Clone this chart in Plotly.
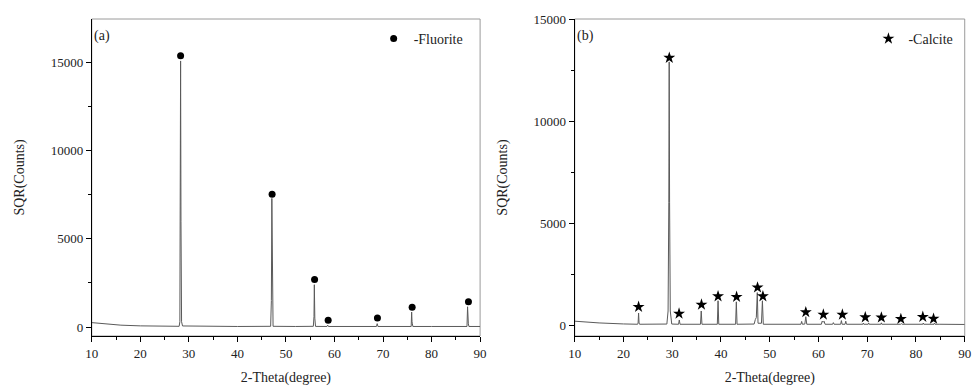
import plotly.graph_objects as go

# ---------------- data ----------------
# (a) Fluorite pattern: profile vertices 2-theta / counts
fluor_x = [10, 12, 14, 16, 20, 25, 28.0, 28.15, 28.25, 28.3, 28.38, 28.5, 28.7,
           35, 40, 46.85, 47.0, 47.1, 47.2, 47.35,
           52, 55.65, 55.78, 55.85, 55.95, 56.1,
           58.45, 58.6, 58.75,
           65, 68.65, 68.8, 68.95,
           75.8, 75.9, 75.98, 76.05, 76.15,
           80, 87.3, 87.42, 87.5, 87.58, 87.7, 90]
fluor_y = [250, 200, 140, 105, 65, 45, 40, 300, 6000, 15100, 6000, 300, 60,
           35, 30, 40, 1500, 7300, 1500, 40,
           30, 40, 600, 2400, 500, 35,
           30, 110, 30,
           30, 30, 190, 30,
           30, 850, 300, 180, 30,
           30, 30, 1150, 300, 180, 30, 30]
fluor_px = [28.3, 47.15, 55.9, 58.7, 68.85, 76.0, 87.6]
fluor_py = [15400, 7540, 2690, 380, 510, 1120, 1440]

# (b) Calcite pattern
calc_x = [10, 12, 15, 20, 22.9, 23.0, 23.1, 23.2, 23.3,
          28.9, 29.15, 29.3, 29.38, 29.46, 29.6, 29.9,
          31.3, 31.45, 31.6,
          35.8, 35.95, 36.1,
          39.25, 39.4, 39.55,
          43.0, 43.15, 43.3,
          46.8, 47.05, 47.25, 47.45, 47.6, 48.3, 48.5, 48.68,
          56.4, 56.55, 56.7, 57.2, 57.4, 57.6,
          60.6, 60.75, 60.95, 61.15, 61.35,
          62.9, 63.05, 63.2,
          64.55, 64.7, 64.85, 65.45, 65.6, 65.75,
          69.1, 69.2, 69.3, 70.2, 70.3, 70.4,
          72.8, 72.9, 73.0,
          76.85, 77.0, 77.15,
          81.4, 81.5, 81.6,
          83.7, 83.8, 83.9, 84.7, 84.8, 84.9, 90]
calc_y = [200, 165, 115, 65, 50, 110, 600, 110, 50,
          60, 700, 6000, 12900, 6000, 700, 60,
          50, 260, 50,
          50, 700, 50,
          50, 1200, 50,
          50, 1150, 50,
          60, 280, 380, 1600, 100, 100, 1200, 50,
          50, 190, 50, 60, 420, 50,
          50, 200, 150, 200, 50,
          50, 130, 50,
          50, 230, 50, 50, 200, 50,
          50, 110, 50, 50, 110, 50,
          50, 120, 50,
          50, 80, 50,
          50, 110, 50,
          50, 110, 50, 50, 80, 50, 40]
calc_px = [23.1, 29.4, 31.4, 36.0, 39.4, 43.2, 47.5, 48.6, 57.4, 61.0, 64.9,
           69.6, 72.9, 76.9, 81.4, 83.6]
calc_py = [900, 13100, 570, 1010, 1420, 1390, 1850, 1420, 640, 520, 520,
           390, 380, 310, 410, 320]

x_ticks = [10, 20, 30, 40, 50, 60, 70, 80, 90]
x_labels = ["10", "20", "30", "40", "50", "60", "70", "80", "90"]
y_ticks = [0, 5000, 10000, 15000]
y_labels = ["0", "5000", "10000", "15000"]

# ---------------- figure ----------------
W, H = 974, 386
FONT = "Times New Roman, Liberation Serif, DejaVu Serif, serif"
fig = go.Figure()

fig.add_trace(go.Scatter(x=fluor_x, y=fluor_y, mode="lines",
                         line=dict(color="#5a5a5a", width=1),
                         xaxis="x", yaxis="y", showlegend=False, hoverinfo="skip"))
fig.add_trace(go.Scatter(x=fluor_px, y=fluor_py, mode="markers",
                         marker=dict(symbol="circle", size=7, color="black"),
                         xaxis="x", yaxis="y", name="-Fluorite",
                         showlegend=True, legend="legend"))
fig.add_trace(go.Scatter(x=calc_x, y=calc_y, mode="lines",
                         line=dict(color="#5a5a5a", width=1),
                         xaxis="x2", yaxis="y2", showlegend=False, hoverinfo="skip"))
fig.add_trace(go.Scatter(x=calc_px, y=calc_py, mode="markers",
                         marker=dict(symbol="star", size=9, color="black"),
                         xaxis="x2", yaxis="y2", name="-Calcite",
                         showlegend=True, legend="legend2"))

tickfont = dict(family=FONT, size=13, color="#222")
titlefont = dict(family=FONT, size=14, color="#222")

def xax(domain, anchor):
    return dict(domain=domain, anchor=anchor, range=[10, 90],
                tickvals=x_ticks, ticktext=x_labels, ticks="outside", ticklen=5,
                tickwidth=1, tickcolor="black", showline=True, linecolor="black",
                linewidth=1, showgrid=False, zeroline=False, tickfont=tickfont,
                minor=dict(dtick=5, tick0=10, ticks="outside", ticklen=3,
                           tickcolor="black", showgrid=False),
                title=dict(text="2-Theta(degree)", font=titlefont, standoff=13))

def yax(rng, anchor):
    return dict(range=rng, anchor=anchor, tickvals=y_ticks, ticktext=y_labels,
                ticks="outside", ticklen=5, tickwidth=1, tickcolor="black",
                showline=True, linecolor="black", linewidth=1, showgrid=False,
                zeroline=False, tickfont=tickfont,
                minor=dict(dtick=2500, tick0=0, ticks="outside", ticklen=3,
                           tickcolor="black", showgrid=False),
                title=dict(text="SQR(Counts)", font=titlefont, standoff=22))

L_T, L_B = 19, 50
fig.update_layout(
    width=W, height=H,
    margin=dict(l=0, r=0, t=L_T, b=L_B),
    paper_bgcolor="white", plot_bgcolor="white",
    font=dict(family=FONT),
    xaxis=xax([86 / W, 480 / W], "y"),
    yaxis=yax([-510, 17480], "x"),
    xaxis2=xax([576 / W, 971.7 / W], "y2"),
    yaxis2=yax([-525, 15000], "x2"),
    legend=dict(x=(392 - 20) / W, y=1 - (23 - L_T) / (H - L_T - L_B),
                xanchor="left", yanchor="top", bgcolor="rgba(0,0,0,0)",
                font=titlefont, borderwidth=0),
    legend2=dict(x=(894 - 20) / W, y=1 - (23 - L_T) / (H - L_T - L_B),
                 xanchor="left", yanchor="top", bgcolor="rgba(0,0,0,0)",
                 font=titlefont, borderwidth=0),
    shapes=[
        dict(type="rect", xref="x domain", yref="y domain", x0=0, x1=1, y0=0, y1=1,
             line=dict(color="#9a9a9a", width=1), layer="below"),
        dict(type="rect", xref="x2 domain", yref="y2 domain", x0=0, x1=1, y0=0, y1=1,
             line=dict(color="#9a9a9a", width=1), layer="below"),
    ],
    annotations=[
        dict(text="(a)", xref="x domain", yref="y domain", x=0, y=1,
             xanchor="left", yanchor="top", xshift=0, yshift=-7,
             showarrow=False, font=titlefont),
        dict(text="(b)", xref="x2 domain", yref="y2 domain", x=0, y=1,
             xanchor="left", yanchor="top", xshift=0, yshift=-7,
             showarrow=False, font=titlefont),
    ],
)

fig.write_html("out.html")
